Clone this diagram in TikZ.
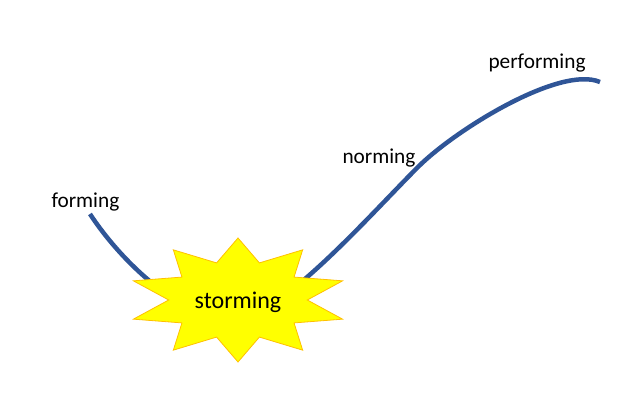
\documentclass[tikz,border=0pt]{standalone}
\usepackage{fontspec}
\setmainfont{Carlito}
\definecolor{curveblue}{HTML}{2F5597}
\definecolor{stargold}{HTML}{FFC000}
\definecolor{staryellow}{HTML}{FFFF00}
\begin{document}
\begin{tikzpicture}[x=1pt,y=-1pt,
  lbl/.style={inner sep=0pt,anchor=base west,font=\fontsize{21.3}{25}\selectfont},
  stormlbl/.style={inner sep=0pt,anchor=base,font=\fontsize{24}{28}\selectfont},
  curve/.style={draw=curveblue,line width=4.5pt},
  burst/.style={fill=staryellow,draw=stargold,line width=0.8pt,line join=miter}]
\useasboundingbox (0,0) rectangle (633,414);
% curve
\coordinate (c0) at (90,214);
\coordinate (c1) at (240,318);
\coordinate (c2) at (418,167);
\coordinate (c3) at (600,82);
\draw[curve] (c0) .. controls (120,260) and (185,325) .. (c1)
  .. controls (285,312) and (370,215) .. (c2)
  .. controls (455,130) and (560,65) .. (c3);
% starburst
\begin{scope}[shift={(238,300)}]
\path[burst] (90:110 and 62) \foreach \i in {0,...,9}{ -- ({108+36*\i}:69.3 and 39) -- ({126+36*\i}:110 and 62)} -- cycle;
\end{scope}
\node[stormlbl] (storming) at (238,309) {storming};
\node[lbl] (forming) at (51.3,208) {forming};
\node[lbl] (norming) at (342.3,163.5) {norming};
\node[lbl] (performing) at (488.3,69) {performing};
\end{tikzpicture}
\end{document}
